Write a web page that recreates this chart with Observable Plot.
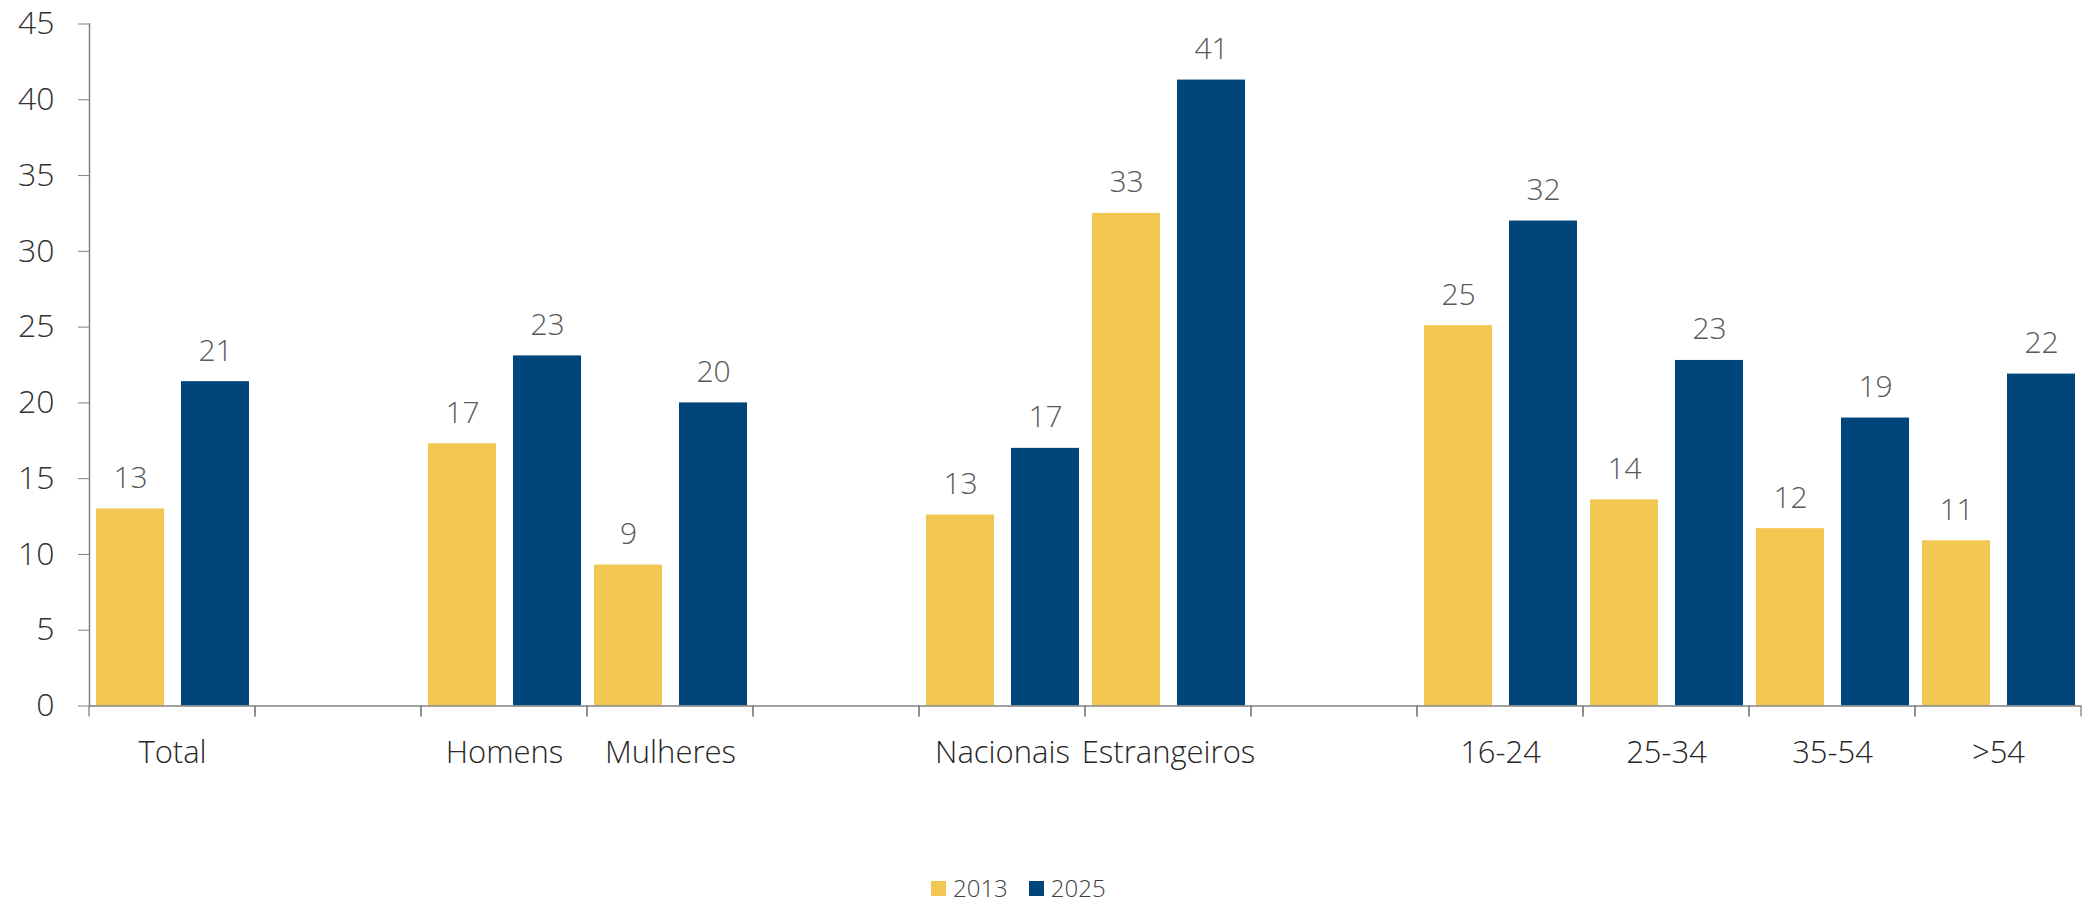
<!DOCTYPE html>
<html>
<head>
<meta charset="utf-8">
<script src="https://cdn.jsdelivr.net/npm/d3@7"></script>
<script src="https://cdn.jsdelivr.net/npm/@observablehq/plot@0.6"></script>
<style>
  html, body { margin: 0; padding: 0; background: #fff; }
  body { width: 2093px; height: 900px; position: relative; font-family: 'Open Sans', sans-serif; font-weight: 300; }
  #legend { position: absolute; left: 931px; top: 874px; display: flex; align-items: center; font-size: 24px; color: #404040; line-height: 28px; }
  #legend .sw { width: 15px; height: 15px; display: inline-block; margin-right: 7px; }
  #legend .item { display: flex; align-items: center; margin-right: 21px; }
</style>
</head>
<body>
<div id="chart"></div>
<div id="legend"></div>
<script>
// ---- data ----
const categories = ["Total", "", "Homens", "Mulheres", " ", "Nacionais", "Estrangeiros", "  ", "16-24", "25-34", "35-54", ">54"];
const groups = ["Total", "Homens", "Mulheres", "Nacionais", "Estrangeiros", "16-24", "25-34", "35-54", ">54"];
const series = ["2013", "2025"];
const values2013 = [13.0, 17.3, 9.3, 12.6, 32.5, 25.1, 13.6, 11.7, 10.9];
const values2025 = [21.4, 23.1, 20.0, 17.0, 41.3, 32.0, 22.8, 19.0, 21.9];
const yTicks = [0, 5, 10, 15, 20, 25, 30, 35, 40, 45];
const colors = ["#F2C751", "#00467A"];

const rows = [];
groups.forEach((g, i) => {
  rows.push({group: g, series: series[0], value: values2013[i]});
  rows.push({group: g, series: series[1], value: values2025[i]});
});

const axisGray = "#808080";

// boundary ticks at the edges of every category band
function bandEdgeTicks(index, scales, values, dimensions) {
  const {marginLeft, marginRight, marginBottom, width, height} = dimensions;
  const y0 = height - marginBottom;
  const g = d3.create("svg:g").attr("stroke", axisGray).attr("stroke-width", 1.3);
  for (const x of [marginLeft, width - marginRight]) {
    g.append("line").attr("x1", x).attr("x2", x).attr("y1", y0).attr("y2", y0 + 11);
  }
  return g.node();
}

const chart = Plot.plot({
  width: 2093,
  height: 870,
  marginTop: 23.5,
  marginBottom: 164.5,
  marginLeft: 87,
  marginRight: 10,
  style: {fontFamily: "'Open Sans', sans-serif", fontWeight: 300, color: "#333", background: "#fff"},
  fx: {domain: categories, padding: 0, label: null, axis: null},
  x: {domain: series, paddingInner: 0.205, paddingOuter: 0.078, axis: null},
  y: {domain: [0, 45], axis: null},
  color: {domain: series, range: colors},
  marks: [
    Plot.barY(rows, {fx: "group", x: "series", y: "value", fill: "series"}),
    Plot.text(rows, {fx: "group", x: "series", y: "value", text: d => Math.round(d.value), lineAnchor: "bottom", dy: -21, fontSize: 30, fill: "#595959"}),
    Plot.ruleY(categories, {fx: d => d, y: 0, stroke: axisGray, strokeWidth: 1.5}),
    Plot.frame({anchor: "left", facetAnchor: "left", stroke: axisGray, strokeWidth: 1.5}),
    bandEdgeTicks,
    Plot.axisY({ticks: yTicks, anchor: "left", facetAnchor: "left", tickSize: 11, tickPadding: 24, fontSize: 32, stroke: axisGray, fill: "#333", label: null}),
    Plot.axisFx({anchor: "bottom", tickSize: 0, tickPadding: 35, fontSize: 31, fill: "#262626", label: null})
  ]
});
document.getElementById("chart").appendChild(chart);

const legend = d3.select("#legend");
series.forEach((s, i) => {
  const item = legend.append("div").attr("class", "item");
  item.append("span").attr("class", "sw").style("background", colors[i]);
  item.append("span").text(s);
});
</script>
</body>
</html>
